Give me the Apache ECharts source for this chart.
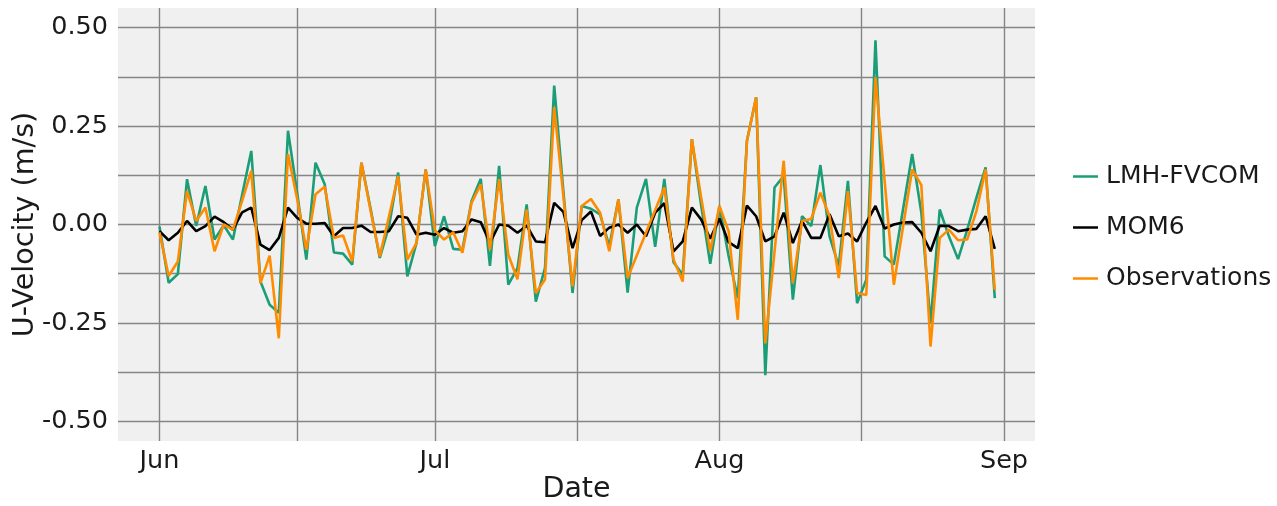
<!DOCTYPE html>
<html>
<head>
<meta charset="utf-8">
<script src="https://cdn.jsdelivr.net/npm/echarts@6/dist/echarts.min.js"></script>
<style>
  html, body { margin: 0; padding: 0; background: #ffffff; }
  #chart { width: 1277px; height: 506px; }
</style>
</head>
<body>
<div id="chart"></div>
<script>
// ---- data (daily values starting 2023-06-01) ----
const startDate = '2023-06-01';
const dayCount = 92;

const lmhFvcom = [
  -0.005, -0.148, -0.126, 0.115, -0.004, 0.098, -0.038, -0.002, -0.038, 0.075,
  0.187, -0.145, -0.204, -0.224, 0.238, 0.080, -0.089, 0.157, 0.102, -0.071,
  -0.074, -0.102, 0.157, 0.040, -0.085, -0.005, 0.132, -0.132, -0.047, 0.140,
  -0.055, 0.021, -0.062, -0.064, 0.060, 0.116, -0.105, 0.149, -0.153, -0.111,
  0.051, -0.196, -0.110, 0.353, 0.085, -0.174, 0.047, 0.040, 0.026, -0.055,
  0.064, -0.173, 0.043, 0.116, -0.057, 0.116, -0.096, -0.128, 0.217, 0.050,
  -0.100, 0.047, -0.080, -0.187, 0.213, 0.323, -0.383, 0.094, 0.123, -0.191,
  0.021, -0.004, 0.151, -0.030, -0.106, 0.111, -0.200, -0.140, 0.468, -0.081,
  -0.102, 0.038, 0.179, 0.030, -0.251, 0.038, -0.030, -0.088, -0.013, 0.068,
  0.145, -0.187
];

const mom6 = [
  -0.017, -0.040, -0.021, 0.009, -0.017, -0.004, 0.020, 0.006, -0.013, 0.031,
  0.043, -0.051, -0.065, -0.034, 0.043, 0.017, 0.002, 0.002, 0.004, -0.030,
  -0.009, -0.009, -0.003, -0.019, -0.019, -0.017, 0.021, 0.017, -0.026, -0.021,
  -0.026, -0.009, -0.021, -0.017, 0.013, 0.006, -0.047, 0.000, -0.003, -0.021,
  -0.003, -0.043, -0.045, 0.055, 0.032, -0.060, 0.011, 0.033, -0.029, -0.008,
  0.000, -0.021, 0.000, -0.030, 0.030, 0.054, -0.068, -0.043, 0.043, 0.013,
  -0.036, 0.015, -0.045, -0.060, 0.048, 0.021, -0.043, -0.030, 0.030, -0.047,
  0.009, -0.034, -0.034, 0.026, -0.030, -0.023, -0.043, 0.005, 0.047, -0.010,
  0.000, 0.005, 0.006, -0.021, -0.068, -0.003, -0.004, -0.017, -0.013, -0.011,
  0.021, -0.062
];

const observations = [
  -0.020, -0.131, -0.094, 0.085, 0.009, 0.043, -0.068, 0.000, -0.013, 0.060,
  0.136, -0.149, -0.079, -0.289, 0.179, 0.065, -0.064, 0.077, 0.096, -0.034,
  -0.028, -0.094, 0.157, 0.035, -0.081, 0.020, 0.123, -0.089, -0.047, 0.140,
  -0.015, -0.038, -0.020, -0.072, 0.055, 0.102, -0.064, 0.115, -0.077, -0.139,
  0.038, -0.174, -0.140, 0.298, 0.072, -0.157, 0.047, 0.065, 0.030, -0.068,
  0.064, -0.136, null, null, null, 0.094, -0.089, -0.145, 0.217, 0.070,
  -0.068, 0.047, -0.017, -0.242, 0.213, 0.323, -0.302, null, 0.162, -0.149,
  0.009, 0.014, 0.081, 0.021, -0.136, 0.085, -0.174, -0.179, 0.374, null,
  -0.153, null, 0.140, 0.100, -0.310, -0.034, -0.013, -0.040, -0.038, 0.034,
  0.140, -0.166
];

const seriesNames = ['LMH-FVCOM', 'MOM6', 'Observations'];
const seriesColors = ['#1b9e77', '#000000', '#ff8c00'];

// ticks: major at month starts (labelled), minor at month midpoints
const monthStarts = ['2023-06-01', '2023-07-01', '2023-08-01', '2023-09-01'];
const monthLabels = ['Jun', 'Jul', 'Aug', 'Sep'];
const yGridValues = [-0.5, -0.375, -0.25, -0.125, 0, 0.125, 0.25, 0.375, 0.5];
const yLabelValues = [-0.5, -0.25, 0, 0.25, 0.5];

// ---- build: x is "days since startDate" ----
const DAY = 86400000;
function ts(s) { const p = s.split('-').map(Number); return Date.UTC(p[0], p[1] - 1, p[2]); }
const t0 = ts(startDate);
function dayOf(s) { return (ts(s) - t0) / DAY; }
const days = [];
for (let i = 0; i < dayCount; i++) days.push(i);
function pairs(arr) { return arr.map((v, i) => [days[i], v]); }

const xLabelDays = monthStarts.map(dayOf);
const xGridDays = [];
for (let i = 0; i < xLabelDays.length; i++) {
  xGridDays.push(xLabelDays[i]);
  if (i < xLabelDays.length - 1) xGridDays.push((xLabelDays[i] + xLabelDays[i + 1]) / 2);
}

const chart = echarts.init(document.getElementById('chart'), null, { renderer: 'canvas' });
const font = 'DejaVu Sans';
const txt = '#1a1a1a';
const gridColor = '#858585';
const allData = [lmhFvcom, mom6, observations];

chart.setOption({
  animation: false,
  backgroundColor: '#ffffff',
  textStyle: { fontFamily: font },
  grid: {
    left: 118, right: 242, top: 8, bottom: 65,
    outerBoundsMode: 'none',
    containLabel: false,
    show: true, backgroundColor: '#f0f0f0', borderWidth: 0
  },
  legend: {
    orient: 'vertical',
    left: 1068,
    top: 159,
    icon: 'rect',
    itemWidth: 25,
    itemHeight: 2.5,
    itemGap: 26,
    data: seriesNames,
    textStyle: { fontFamily: font, fontSize: 25, color: txt, lineHeight: 24, padding: [0, 0, 0, 3] }
  },
  xAxis: {
    type: 'value',
    min: -4.52,
    max: dayOf('2023-09-01') + 3.38,
    name: 'Date',
    nameLocation: 'middle',
    nameGap: 34,
    nameMoveOverlap: false,
    nameTextStyle: { fontFamily: font, fontSize: 28.5, color: txt },
    axisLine: { show: false },
    axisTick: { show: false, customValues: xGridDays },
    axisLabel: {
      customValues: xLabelDays,
      fontFamily: font, fontSize: 25.5, color: txt, margin: 7,
      formatter: function (v) {
        const i = xLabelDays.indexOf(v);
        return i >= 0 ? monthLabels[i] : '';
      }
    },
    splitLine: { show: true, lineStyle: { color: gridColor, width: 1.4 } }
  },
  yAxis: {
    type: 'value',
    min: -0.55,
    max: 0.55,
    name: 'U-Velocity (m/s)',
    nameLocation: 'middle',
    nameGap: 78,
    nameMoveOverlap: false,
    nameTextStyle: { fontFamily: font, fontSize: 28.6, color: txt },
    axisLine: { show: false },
    axisTick: { show: false, customValues: yGridValues },
    axisLabel: {
      customValues: yLabelValues,
      fontFamily: font, fontSize: 25.5, color: txt, margin: 10,
      padding: [9, 0, 0, 0],
      formatter: function (v) { return v.toFixed(2); }
    },
    splitLine: { show: true, lineStyle: { color: gridColor, width: 1.4 } }
  },
  series: seriesNames.map((name, k) => ({
    name: name,
    type: 'line',
    data: pairs(allData[k]),
    showSymbol: false,
    symbol: 'none',
    connectNulls: true,
    lineStyle: { color: seriesColors[k], width: 2.6 },
    itemStyle: { color: seriesColors[k] },
    z: 2 + k
  }))
});
</script>
</body>
</html>
